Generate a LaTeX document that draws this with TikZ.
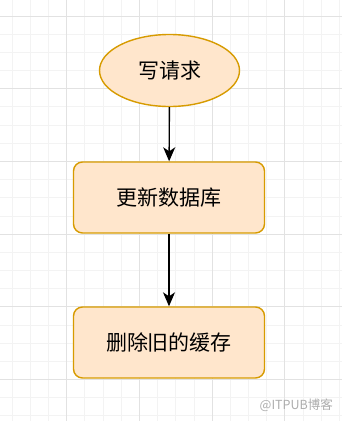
\documentclass[tikz,border=0pt]{standalone}
\usepackage{fontspec}
\setmainfont{Noto Sans CJK SC}
\usetikzlibrary{shapes.geometric,arrows.meta}
\definecolor{boxfill}{HTML}{FFE6CC}
\definecolor{boxline}{HTML}{D79B00}
\definecolor{gridminor}{HTML}{F3F3F3}
\definecolor{gridmajor}{HTML}{E2E2E2}
\begin{document}
\begin{tikzpicture}[x=1pt, y=-1pt, every node/.style={font=\fontsize{21}{25}\selectfont},
  stepbox/.style={draw=boxline,fill=boxfill,line width=1.4pt,rounded corners=9pt,minimum width=191pt,minimum height=71pt,inner sep=0pt},
  startnode/.style={ellipse,draw=boxline,fill=boxfill,line width=1.4pt,minimum width=140pt,minimum height=72pt,inner sep=0pt},
  flow/.style={-{Stealth[length=14pt,width=12pt,inset=4pt]},line width=1.4pt}]
\useasboundingbox (0,0) rectangle (342,421);
\fill[white] (0,0) rectangle (342,421);
% background grid
\foreach \i in {1,...,19} \draw[gridminor,line width=0.8pt] ({-6+18.175*\i},0) -- ++(0,421);
\foreach \j in {1,...,23} \draw[gridminor,line width=0.8pt] (0,{-2.175+18.175*\j}) -- ++(342,0);
\foreach \i in {1,...,4} \draw[gridmajor,line width=0.8pt] ({-6+72.7*\i},0) -- ++(0,421);
\foreach \j in {0,...,5} \draw[gridmajor,line width=0.8pt] (0,{16+72.7*\j}) -- ++(342,0);
% flow
\node[startnode] (req) at (169.5,70.5) {写请求};
\node[stepbox] (db) at (169,197.5) {更新数据库};
\node[stepbox] (cache) at (169,342.5) {删除旧的缓存};
\draw[flow] (req) -- (db);
\draw[flow] (db) -- (cache);
% watermark
\node[text=black!32,font=\fontsize{12.5}{15}\selectfont,anchor=east,inner sep=0pt] (mark) at (333,405) {@ITPUB博客};
\end{tikzpicture}
\end{document}
